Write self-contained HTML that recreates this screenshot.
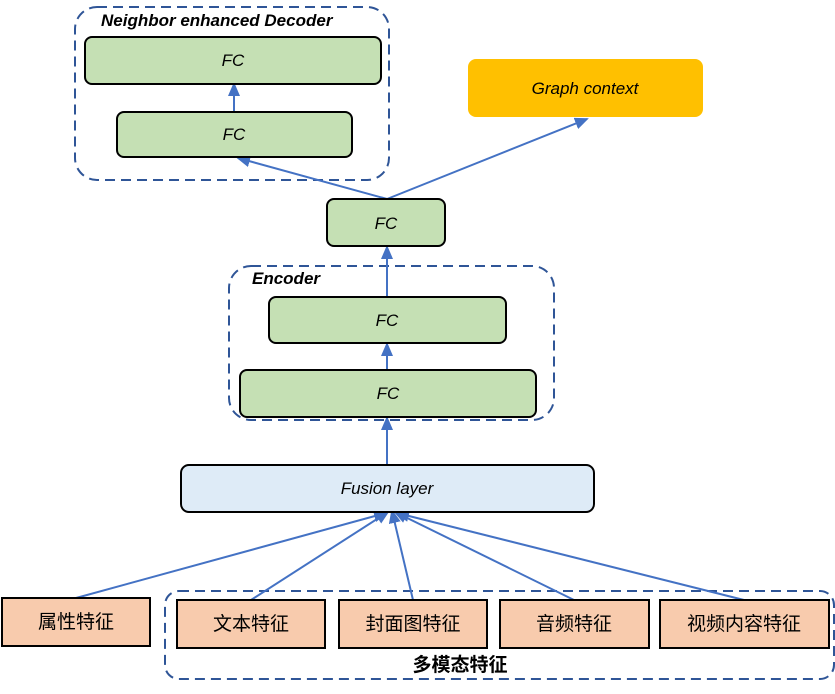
<!DOCTYPE html>
<html><head><meta charset="utf-8"><style>
body{margin:0;background:#fff;}
svg text{font-family:"Liberation Sans","Noto Sans CJK SC",sans-serif;}
</style></head><body>
<svg width="835" height="689" viewBox="0 0 835 689" xmlns="http://www.w3.org/2000/svg">
<defs>
<marker id="ar" markerWidth="14" markerHeight="12" refX="12" refY="6" orient="auto" markerUnits="userSpaceOnUse">
<path d="M0,0 L14,6 L0,12 z" fill="#4472C4"/>
</marker>
</defs>
<g fill="none" stroke="#2F5597" stroke-width="2" stroke-dasharray="10,6">
<rect x="75" y="7" width="314" height="173" rx="22"/>
<rect x="229" y="266" width="325" height="154" rx="22"/>
<rect x="165" y="591" width="669" height="88" rx="14"/>
</g>
<g stroke="#4472C4" stroke-width="2" fill="none" marker-end="url(#ar)">
<line x1="234" y1="111" x2="234" y2="84"/>
<line x1="387" y1="199" x2="238" y2="158"/>
<line x1="387" y1="199" x2="587" y2="119"/>
<line x1="387" y1="296" x2="387" y2="247"/>
<line x1="387" y1="369" x2="387" y2="344"/>
<line x1="387" y1="464" x2="387" y2="418"/>
<line x1="76" y1="598" x2="386" y2="513"/>
<line x1="251" y1="600" x2="388" y2="512"/>
<line x1="413" y1="600" x2="392" y2="511"/>
<line x1="574" y1="600" x2="395" y2="512"/>
<line x1="744" y1="600" x2="397" y2="513"/>
</g>
<g stroke="#000" stroke-width="2" fill="#C5E0B4">
<rect x="85" y="37" width="296" height="47" rx="7"/>
<rect x="117" y="112" width="235" height="45" rx="7"/>
<rect x="327" y="199" width="118" height="47" rx="7"/>
<rect x="269" y="297" width="237" height="46" rx="7"/>
<rect x="240" y="370" width="296" height="47" rx="7"/>
</g>
<rect x="468" y="59" width="235" height="58" rx="8" fill="#FFC000"/>
<rect x="181" y="465" width="413" height="47" rx="8" fill="#DEEBF7" stroke="#000" stroke-width="2"/>
<g stroke="#000" stroke-width="2" fill="#F8CBAD">
<rect x="2" y="598" width="148" height="48"/>
<rect x="177" y="600" width="148" height="48"/>
<rect x="339" y="600" width="148" height="48"/>
<rect x="500" y="600" width="149" height="48"/>
<rect x="660" y="600" width="169" height="48"/>
</g>
<g font-size="17" font-style="italic" text-anchor="middle" fill="#000">
<text x="233" y="66">FC</text>
<text x="234" y="140">FC</text>
<text x="386" y="229">FC</text>
<text x="387" y="326">FC</text>
<text x="388" y="399">FC</text>
<text x="585" y="94">Graph context</text>
<text x="387" y="494">Fusion layer</text>
</g>
<g font-size="17" font-style="italic" font-weight="bold" fill="#000">
<text x="101" y="26">Neighbor enhanced Decoder</text>
<text x="252" y="284">Encoder</text>
</g>
<g font-size="19" text-anchor="middle" fill="#000">
<text x="76" y="628">属性特征</text>
<text x="251" y="630">文本特征</text>
<text x="413" y="630">封面图特征</text>
<text x="574" y="630">音频特征</text>
<text x="744" y="630">视频内容特征</text>
<text x="460" y="671" font-weight="bold">多模态特征</text>
</g>
</svg>
</body></html>
